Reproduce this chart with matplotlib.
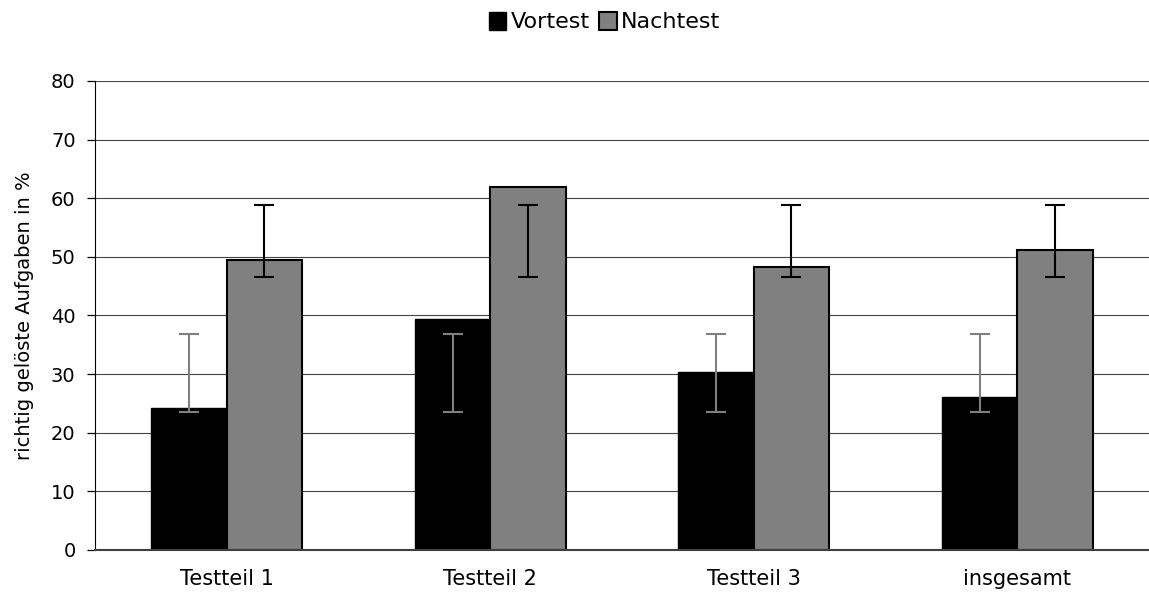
import matplotlib.pyplot as plt
import numpy as np
from matplotlib.patches import Patch

categories = ["Testteil 1", "Testteil 2", "Testteil 3", "insgesamt"]
vortest = [24.3, 39.4, 30.4, 26.1]
nachtest = [49.4, 61.9, 48.3, 51.2]
# error bar ends (low, high), same for every category
vortest_err_low = [23.5, 23.5, 23.5, 23.5]
vortest_err_high = [36.8, 36.8, 36.8, 36.8]
nachtest_err_low = [46.5, 46.5, 46.5, 46.5]
nachtest_err_high = [58.9, 58.9, 58.9, 58.9]

plt.rcParams["font.family"] = ["DejaVu Sans"]

fig = plt.figure(figsize=(11.49, 5.96), dpi=100)
ax = fig.add_axes([0.0827, 0.0772, 0.9173, 0.787])

x = np.arange(len(categories))
w = 0.286

ax.bar(x - w / 2, vortest, w, color="black", edgecolor="black", linewidth=1, zorder=2)
ax.bar(x + w / 2, nachtest, w, color="#808080", edgecolor="black", linewidth=1.5, zorder=2)

vmid = (np.array(vortest_err_low) + np.array(vortest_err_high)) / 2
ax.errorbar(x - w / 2, vmid, yerr=(np.array(vortest_err_high) - np.array(vortest_err_low)) / 2,
            fmt="none", ecolor="#808080", elinewidth=1.5, capsize=7, capthick=1.5, zorder=3)
nmid = (np.array(nachtest_err_low) + np.array(nachtest_err_high)) / 2
ax.errorbar(x + w / 2, nmid, yerr=(np.array(nachtest_err_high) - np.array(nachtest_err_low)) / 2,
            fmt="none", ecolor="black", elinewidth=1.5, capsize=7, capthick=1.5, zorder=3)

ax.set_xlim(-0.5, len(categories) - 0.5)
ax.set_ylim(0, 80)
ax.set_yticks(range(0, 81, 10))
ax.yaxis.grid(True, color="#444444", linewidth=0.8, zorder=0)
ax.set_axisbelow(True)
ax.tick_params(axis="y", labelsize=14, length=6, width=0.9, pad=8)
ax.set_xticks(x)
ax.set_xticklabels(categories, fontsize=15)
ax.tick_params(axis="x", length=0, pad=14)
ax.set_ylabel("richtig gelöste Aufgaben in %", fontsize=14, labelpad=12)

for side in ["top", "right"]:
    ax.spines[side].set_visible(False)
ax.spines["left"].set_color("black")
ax.spines["bottom"].set_color("#404040")
ax.spines["bottom"].set_linewidth(1.5)

handles = [Patch(facecolor="black", edgecolor="black"),
           Patch(facecolor="#808080", edgecolor="black", linewidth=1.5)]
fig.legend(handles, ["Vortest", "Nachtest"], loc="center", bbox_to_anchor=(0.526, 0.963),
           ncol=2, frameon=False, fontsize=16, handlelength=0.8, handleheight=0.9,
           handletextpad=0.2, columnspacing=0.4)

plt.savefig("out.png")
